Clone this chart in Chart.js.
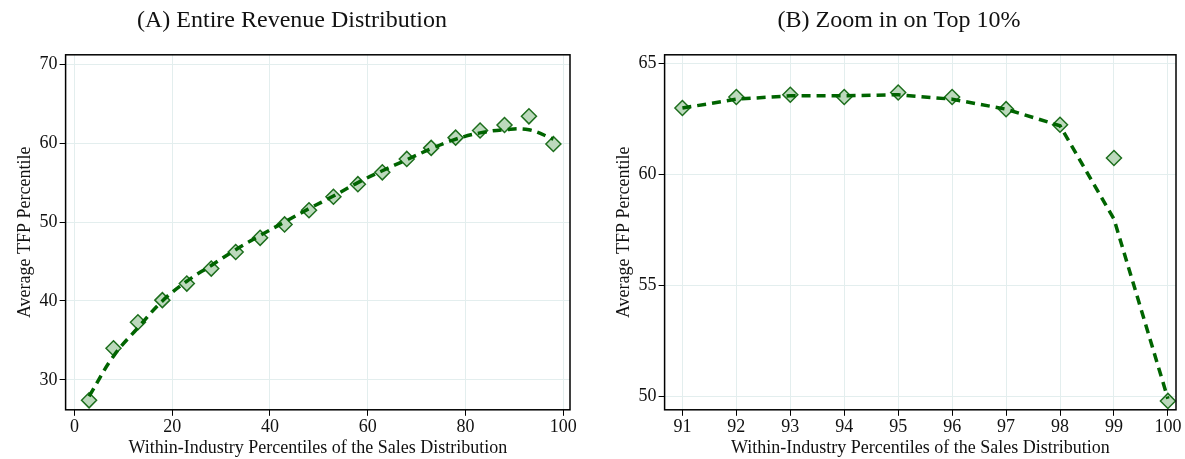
<!DOCTYPE html>
<html><head><meta charset="utf-8">
<script src="https://cdn.jsdelivr.net/npm/chart.js@4"></script>
<style>
body{margin:0;background:#fff;width:1185px;height:459px;overflow:hidden}
.box{position:absolute;top:0;height:459px}
</style></head><body>
<div class="box" style="left:0;width:590px"><canvas id="ca"></canvas></div>
<div class="box" style="left:595px;width:590px"><canvas id="cb"></canvas></div>
<script>
// panel A
const pctA = [3,8,13,18,23,28,33,38,43,48,53,58,63,68,73,78,83,88,93,98];
const tfpA = [27.4,34.0,37.3,40.1,42.2,44.1,46.2,48.0,49.7,51.5,53.2,54.8,56.3,58.0,59.4,60.7,61.6,62.3,63.4,59.9];
const fitA = [27.9,33.0,36.6,40.0,42.5,44.5,46.5,48.3,50.0,51.7,53.3,55.0,56.5,57.9,59.3,60.5,61.3,61.7,61.7,60.5];
// panel B
const pctB = [91,92,93,94,95,96,97,98,99,100];
const tfpB = [63.0,63.5,63.6,63.5,63.7,63.5,62.95,62.25,60.75,49.8];
const fitB = [63.0,63.4,63.55,63.55,63.6,63.4,62.95,62.2,58.0,49.9];

const serif = "'Liberation Serif','DejaVu Serif',serif";
const boxPlugin = {
  id: 'box',
  afterDraw(c) {
    const a = c.chartArea, x = c.ctx;
    x.save(); x.strokeStyle = '#000'; x.lineWidth = 1.5;
    x.strokeRect(a.left, a.top, a.right - a.left, a.bottom - a.top);
    x.restore();
  }
};

function makeChart(id, title, xs, pts, fit, xr, yr, xstep, ystep, pad, tension) {
  new Chart(document.getElementById(id), {
    type: 'scatter',
    data: {
      datasets: [
        {
          data: xs.map((v, i) => ({x: v, y: fit[i]})),
          showLine: true, borderColor: '#006400', borderWidth: 3.5,
          borderDash: [9, 6], tension: tension, pointRadius: 0
        },
        {
          data: xs.map((v, i) => ({x: v, y: pts[i]})),
          pointStyle: 'rectRot', pointRadius: 7.5,
          backgroundColor: '#bcd9bc', borderColor: '#1d6e1d', borderWidth: 1.5
        }
      ]
    },
    options: {
      responsive: false, animation: false, clip: false,
      layout: {padding: pad},
      plugins: {
        legend: {display: false}, tooltip: {enabled: false},
        title: {display: true, text: title, color: '#111',
          font: {family: serif, size: 24, weight: 'normal'}, padding: {top: 6, bottom: 20}}
      },
      scales: {
        x: {type: 'linear', min: xr[0], max: xr[1],
          afterBuildTicks: s => { const t = []; for (let v = Math.ceil(xr[0] / xstep) * xstep; v <= xr[1]; v += xstep) t.push({value: v}); s.ticks = t; },
          grid: {color: '#e3eeee', drawTicks: true, tickLength: 6, tickColor: '#000'},
          ticks: {color: '#111', font: {family: serif, size: 18}, padding: 1},
          title: {display: true, text: 'Within-Industry Percentiles of the Sales Distribution',
            color: '#111', font: {family: serif, size: 18}, padding: {top: -2, bottom: 0}}
        },
        y: {min: yr[0], max: yr[1],
          afterBuildTicks: s => { const t = []; for (let v = Math.ceil(yr[0] / ystep) * ystep; v <= yr[1]; v += ystep) t.push({value: v}); s.ticks = t; },
          grid: {color: '#e3eeee', tickLength: 6, tickColor: '#000'},
          ticks: {color: '#111', font: {family: serif, size: 18}, padding: 2},
          title: {display: true, text: 'Average TFP Percentile',
            color: '#111', font: {family: serif, size: 18}, padding: {top: 0, bottom: 2}}
        }
      }
    },
    plugins: [boxPlugin]
  });
}

const ca = document.getElementById('ca'); ca.width = 590; ca.height = 459;
const cb = document.getElementById('cb'); cb.width = 590; cb.height = 459;
makeChart('ca', '(A) Entire Revenue Distribution', pctA, tfpA, fitA, [-1.8, 101.4], [26.2, 71.2], 20, 10, {left: 14, right: 20, top: 0, bottom: 0}, 0.4);
makeChart('cb', '(B) Zoom in on Top 10%', pctB, tfpB, fitB, [90.67, 100.15], [49.4, 65.4], 1, 5, {left: 18, right: 0, top: 0, bottom: 0}, 0);
</script>
</body></html>
